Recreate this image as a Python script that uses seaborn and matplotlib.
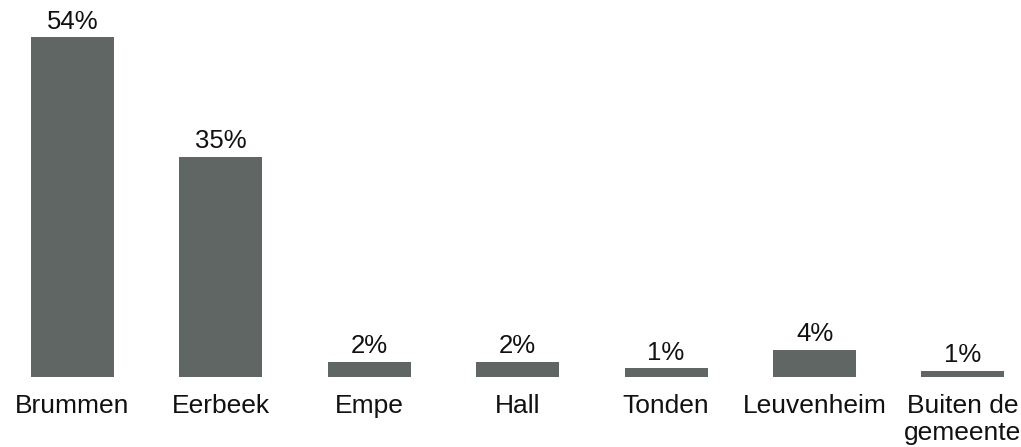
import matplotlib
matplotlib.use("Agg")
import matplotlib.pyplot as plt
import seaborn as sns
import pandas as pd

# Share of respondents per place of residence (%)
categories = ["Brummen", "Eerbeek", "Empe", "Hall", "Tonden", "Leuvenheim", "Buiten de\ngemeente"]
shares = [54.0, 35.0, 2.4, 2.4, 1.4, 4.3, 1.0]
value_labels = ["54%", "35%", "2%", "2%", "1%", "4%", "1%"]

bar_color = "#5f6663"

sns.set_theme(style="white")
plt.rcParams["font.family"] = ["Liberation Sans", "DejaVu Sans"]

df = pd.DataFrame({"plaats": categories, "aandeel": shares})

fig = plt.figure(figsize=(10.21, 4.47), dpi=100)
ax = fig.add_axes([0, 70 / 447, 1, 377 / 447])

sns.barplot(data=df, x="plaats", y="aandeel", color=bar_color, saturation=1,
            width=0.559, linewidth=0, ax=ax)

ax.set_xlim(-72.5 / 148.4, (1021 - 72.5) / 148.4)
ax.set_ylim(0, 54 / 340 * 377)

ax.bar_label(ax.containers[0], labels=value_labels, padding=2.5, fontsize=18.5, color="#111111")

ax.set_xlabel("")
ax.set_ylabel("")
ax.set_yticks([])
ax.tick_params(axis="x", length=0, pad=12, labelsize=19, labelcolor="#111111")
for spine in ax.spines.values():
    spine.set_visible(False)

fig.savefig("out.png", dpi=100)
